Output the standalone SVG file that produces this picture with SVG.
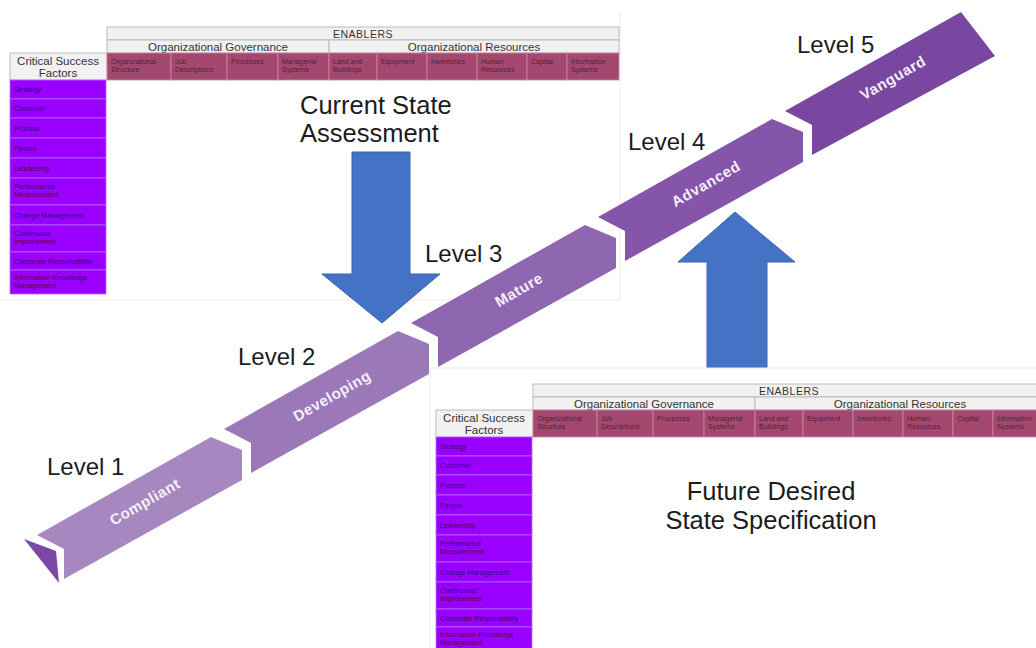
<svg xmlns="http://www.w3.org/2000/svg" width="1036" height="648" viewBox="0 0 1036 648">
<style>
.hdr{fill:#f1f1f1;stroke:#bcbcbc;stroke-width:1}
.cell{fill:#a5486f;stroke:#c88aa5;stroke-width:0.8}
.csf{fill:#9a00ff;stroke:#b46bff;stroke-width:0.8}
.h{font-family:"Liberation Sans",Arial,sans-serif;fill:#333;text-anchor:middle}
.ct{font-family:"Liberation Sans",Arial,sans-serif;font-size:7px;fill:#3a1a2c;fill-opacity:0.85}
.lt{font-family:"Liberation Sans",Arial,sans-serif;font-size:7.2px;fill:#2a0a45;fill-opacity:0.85}
.big{font-family:"Liberation Sans",Arial,sans-serif;font-size:24px;fill:#1c1c1c}
.big2{font-family:"Liberation Sans",Arial,sans-serif;font-size:25.5px;fill:#1c1c1c}
.seg-t{font-family:"Liberation Sans",Arial,sans-serif;font-size:15px;font-weight:bold;fill:#f6f0fa;text-anchor:middle;letter-spacing:0.6px}
.edge{stroke:#ececec;stroke-width:1;fill:none}
.blue{fill:#4472c4;stroke:#3b64b0;stroke-width:1}
</style>
<rect width="1036" height="648" fill="#fff"/>

<g id="panel-current">
<path class="edge" d="M0,300 H620 V12"/>
<g id="table-current">
<rect class="hdr" x="107" y="27" width="512" height="13"/>
<rect class="hdr" x="107" y="40" width="222" height="13"/>
<rect class="hdr" x="329" y="40" width="290" height="13"/>
<rect class="hdr" x="10" y="53" width="97" height="27"/>
<text class="h" x="363" y="37.5" font-size="10.5" letter-spacing="0.5">ENABLERS</text>
<text class="h" x="218" y="50.5" font-size="11.5">Organizational Governance</text>
<text class="h" x="474" y="50.5" font-size="11.5">Organizational Resources</text>
<text class="h" x="58" y="65" font-size="11.5">Critical Success</text>
<text class="h" x="58" y="76.5" font-size="11.5">Factors</text>
<rect class="cell" x="107" y="53" width="64" height="27"/>
<rect class="cell" x="171" y="53" width="56" height="27"/>
<rect class="cell" x="227" y="53" width="51" height="27"/>
<rect class="cell" x="278" y="53" width="51" height="27"/>
<rect class="cell" x="329" y="53" width="48" height="27"/>
<rect class="cell" x="377" y="53" width="50" height="27"/>
<rect class="cell" x="427" y="53" width="50" height="27"/>
<rect class="cell" x="477" y="53" width="50" height="27"/>
<rect class="cell" x="527" y="53" width="40" height="27"/>
<rect class="cell" x="567" y="53" width="52" height="27"/>
<text class="ct" x="111" y="64">Organizational</text><text class="ct" x="111" y="72">Structure</text>
<text class="ct" x="175" y="64">Job</text><text class="ct" x="175" y="72">Descriptions</text>
<text class="ct" x="231" y="64">Processes</text>
<text class="ct" x="282" y="64">Managerial</text><text class="ct" x="282" y="72">Systems</text>
<text class="ct" x="333" y="64">Land and</text><text class="ct" x="333" y="72">Buildings</text>
<text class="ct" x="381" y="64">Equipment</text>
<text class="ct" x="431" y="64">Inventories</text>
<text class="ct" x="481" y="64">Human</text><text class="ct" x="481" y="72">Resources</text>
<text class="ct" x="531" y="64">Capital</text>
<text class="ct" x="571" y="64">Information</text><text class="ct" x="571" y="72">Systems</text>
<rect class="csf" x="10" y="80" width="96" height="19"/>
<rect class="csf" x="10" y="99" width="96" height="19"/>
<rect class="csf" x="10" y="118" width="96" height="20"/>
<rect class="csf" x="10" y="138" width="96" height="20"/>
<rect class="csf" x="10" y="158" width="96" height="20"/>
<rect class="csf" x="10" y="178" width="96" height="27"/>
<rect class="csf" x="10" y="205" width="96" height="20"/>
<rect class="csf" x="10" y="225" width="96" height="27"/>
<rect class="csf" x="10" y="252" width="96" height="18"/>
<rect class="csf" x="10" y="270" width="96" height="24"/>
<text class="lt" x="14" y="92">Strategy</text>
<text class="lt" x="14" y="111">Customer</text>
<text class="lt" x="14" y="130.5">Process</text>
<text class="lt" x="14" y="150.5">People</text>
<text class="lt" x="14" y="170.5">Leadership</text>
<text class="lt" x="14" y="189">Performance</text><text class="lt" x="14" y="197">Measurement</text>
<text class="lt" x="14" y="217.5">Change Management</text>
<text class="lt" x="14" y="236">Continuous</text><text class="lt" x="14" y="244">Improvement</text>
<text class="lt" x="14" y="263.5">Corporate Responsibility</text>
<text class="lt" x="14" y="280">Information Knowledge</text><text class="lt" x="14" y="288">Management</text>
</g>
<text class="big2" x="300" y="114">Current State</text>
<text class="big2" x="300" y="142">Assessment</text>
</g>

<g id="ribbon">
<polygon id="tail" points="24,539 56,551 59,583" fill="#7b48a3"/>
<g id="level-1">
<polygon points="37,535 211,437 242,450 242,480 64,579 64,549" fill="#a687c0"/>
<text class="seg-t" transform="translate(145,502) rotate(-30)" y="5">Compliant</text>
<text class="big" x="47" y="475">Level 1</text>
</g>
<g id="level-2">
<polygon points="224,429 398,331 429,344 429,374 251,473 251,443" fill="#9b78b8"/>
<text class="seg-t" transform="translate(332,396) rotate(-30)" y="5">Developing</text>
<text class="big" x="238" y="365">Level 2</text>
</g>
<g id="level-3">
<polygon points="411,323 585,225 616,238 616,268 438,367 438,337" fill="#8f67b0"/>
<text class="seg-t" transform="translate(519,290) rotate(-30)" y="5">Mature</text>
<text class="big" x="425" y="262">Level 3</text>
</g>
<g id="level-4">
<polygon points="598,217 772,119 803,132 803,162 625,261 625,231" fill="#8455a8"/>
<text class="seg-t" transform="translate(706,184) rotate(-30)" y="5">Advanced</text>
<text class="big" x="628" y="150">Level 4</text>
</g>
<g id="level-5">
<polygon points="785,111 961,12 995,56 812,155 812,125" fill="#7a47a0"/>
<text class="seg-t" transform="translate(893,78) rotate(-30)" y="5">Vanguard</text>
<text class="big" x="797" y="53">Level 5</text>
</g>
</g>

<g id="connectors">
<polygon id="arrow-down" class="blue" points="352,152 410,152 410,274 440,274 382,323 322,274 352,274"/>
<polygon id="arrow-up" class="blue" points="735,212 795,262 767,262 767,370 707,370 707,262 678,262"/>
</g>

<g id="panel-future">
<rect x="430" y="368" width="610" height="284" fill="#fff" stroke="#ececec" stroke-width="1"/>
<g id="table-future" transform="translate(426,357)">
<rect class="hdr" x="107" y="27" width="512" height="13"/>
<rect class="hdr" x="107" y="40" width="222" height="13"/>
<rect class="hdr" x="329" y="40" width="290" height="13"/>
<rect class="hdr" x="10" y="53" width="97" height="27"/>
<text class="h" x="363" y="37.5" font-size="10.5" letter-spacing="0.5">ENABLERS</text>
<text class="h" x="218" y="50.5" font-size="11.5">Organizational Governance</text>
<text class="h" x="474" y="50.5" font-size="11.5">Organizational Resources</text>
<text class="h" x="58" y="65" font-size="11.5">Critical Success</text>
<text class="h" x="58" y="76.5" font-size="11.5">Factors</text>
<rect class="cell" x="107" y="53" width="64" height="27"/>
<rect class="cell" x="171" y="53" width="56" height="27"/>
<rect class="cell" x="227" y="53" width="51" height="27"/>
<rect class="cell" x="278" y="53" width="51" height="27"/>
<rect class="cell" x="329" y="53" width="48" height="27"/>
<rect class="cell" x="377" y="53" width="50" height="27"/>
<rect class="cell" x="427" y="53" width="50" height="27"/>
<rect class="cell" x="477" y="53" width="50" height="27"/>
<rect class="cell" x="527" y="53" width="40" height="27"/>
<rect class="cell" x="567" y="53" width="52" height="27"/>
<text class="ct" x="111" y="64">Organizational</text><text class="ct" x="111" y="72">Structure</text>
<text class="ct" x="175" y="64">Job</text><text class="ct" x="175" y="72">Descriptions</text>
<text class="ct" x="231" y="64">Processes</text>
<text class="ct" x="282" y="64">Managerial</text><text class="ct" x="282" y="72">Systems</text>
<text class="ct" x="333" y="64">Land and</text><text class="ct" x="333" y="72">Buildings</text>
<text class="ct" x="381" y="64">Equipment</text>
<text class="ct" x="431" y="64">Inventories</text>
<text class="ct" x="481" y="64">Human</text><text class="ct" x="481" y="72">Resources</text>
<text class="ct" x="531" y="64">Capital</text>
<text class="ct" x="571" y="64">Information</text><text class="ct" x="571" y="72">Systems</text>
<rect class="csf" x="10" y="80" width="96" height="19"/>
<rect class="csf" x="10" y="99" width="96" height="19"/>
<rect class="csf" x="10" y="118" width="96" height="20"/>
<rect class="csf" x="10" y="138" width="96" height="20"/>
<rect class="csf" x="10" y="158" width="96" height="20"/>
<rect class="csf" x="10" y="178" width="96" height="27"/>
<rect class="csf" x="10" y="205" width="96" height="20"/>
<rect class="csf" x="10" y="225" width="96" height="27"/>
<rect class="csf" x="10" y="252" width="96" height="18"/>
<rect class="csf" x="10" y="270" width="96" height="24"/>
<text class="lt" x="14" y="92">Strategy</text>
<text class="lt" x="14" y="111">Customer</text>
<text class="lt" x="14" y="130.5">Process</text>
<text class="lt" x="14" y="150.5">People</text>
<text class="lt" x="14" y="170.5">Leadership</text>
<text class="lt" x="14" y="189">Performance</text><text class="lt" x="14" y="197">Measurement</text>
<text class="lt" x="14" y="217.5">Change Management</text>
<text class="lt" x="14" y="236">Continuous</text><text class="lt" x="14" y="244">Improvement</text>
<text class="lt" x="14" y="263.5">Corporate Responsibility</text>
<text class="lt" x="14" y="280">Information Knowledge</text><text class="lt" x="14" y="288">Management</text>
</g>
<text class="big2" x="771" y="500" text-anchor="middle">Future Desired</text>
<text class="big2" x="771" y="529" text-anchor="middle">State Specification</text>
</g>
</svg>
